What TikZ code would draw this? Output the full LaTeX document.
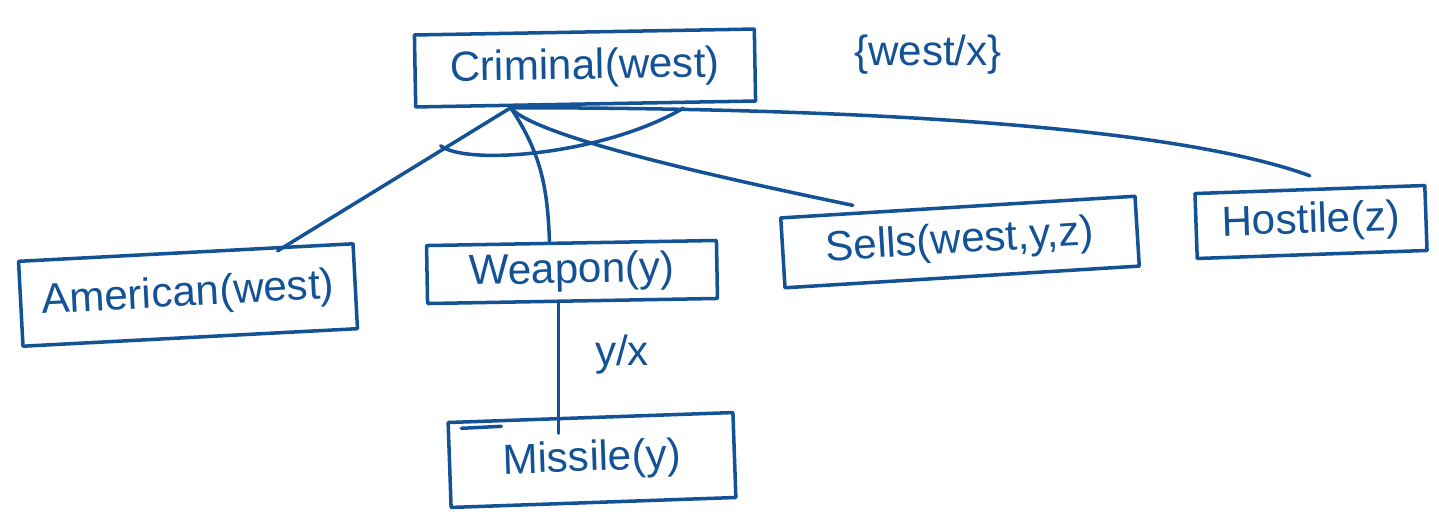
\documentclass[tikz,border=0pt]{standalone}
\usepackage{fontspec}
\setmainfont{Liberation Sans}
\definecolor{inkblue}{RGB}{20,82,150}
\begin{document}
\begin{tikzpicture}[x=0.02cm,y=-0.02cm,
  ink/.style={draw=inkblue, line width=2pt, line cap=round, line join=round},
  term/.style={ink, rectangle, inner sep=0pt, text=inkblue, font=\fontsize{24}{28}\selectfont},
  lbl/.style={text=inkblue, inner sep=0pt, font=\fontsize{24}{28}\selectfont}]
\useasboundingbox[fill=white] (0,0) rectangle (1439,518);

% goal and its sub-goals
\node[term, minimum width=6.8cm, minimum height=1.44cm, rotate=1]   (crim)  at (585,68)   {Criminal(west)};
\node[lbl]                                                         (sub)   at (928,55)   {\{west/x\}};
\node[term, minimum width=6.7cm, minimum height=1.7cm, rotate=3]    (amer)  at (188,295)  {American(west)};
\node[term, minimum width=5.8cm, minimum height=1.16cm, rotate=1]   (weap)  at (572,272)  {Weapon(y)};
\node[term, minimum width=7.1cm, minimum height=1.4cm, rotate=3.5]  (sells) at (960,242)  {Sells(west,y,z)};
\node[term, minimum width=4.6cm, minimum height=1.3cm, rotate=2]    (host)  at (1311,222) {Hostile(z)};
\node[term, minimum width=5.7cm, minimum height=1.7cm, rotate=2]    (miss)  at (592,460)  {Missile(y)};
\node[lbl]                                                         (yx)    at (622,355)  {y/x};

% branching point under the goal
\coordinate (j) at ([xshift=-1.5cm,yshift=-0.04cm]crim.south);

% links to the sub-goals
\draw[ink] (j) -- ([xshift=1.84cm]amer.north);
\draw[ink] (j) .. controls +(30,45) and +(-2,-55) .. ([xshift=-0.44cm]weap.north);
\draw[ink] (j) .. controls +(25,30) and +(-120,-25) .. ([xshift=-2.1cm]sells.north);
\draw[ink] (j) .. controls +(290,0) and +(-150,-55) .. ([yshift=0.24cm]host.north);

% conjunction arc across the links
\coordinate (arcL) at ([xshift=-2.9cm,yshift=-0.8cm]crim.south);
\coordinate (arcR) at ([xshift=1.95cm,yshift=-0.05cm]crim.south);
\draw[ink] (arcL) .. controls +(25,20) and +(-80,47) .. (arcR);

% Weapon(y) resolved by Missile(y)
\coordinate (wb) at ([xshift=-0.28cm]weap.south);
\path (wb |- miss.north) coordinate (mt);
\draw[ink] (wb) -- ([yshift=-0.35cm]mt);
\draw[ink] ([xshift=0.3cm,yshift=-0.15cm]miss.north west) -- ++(40,-2);
\end{tikzpicture}
\end{document}
